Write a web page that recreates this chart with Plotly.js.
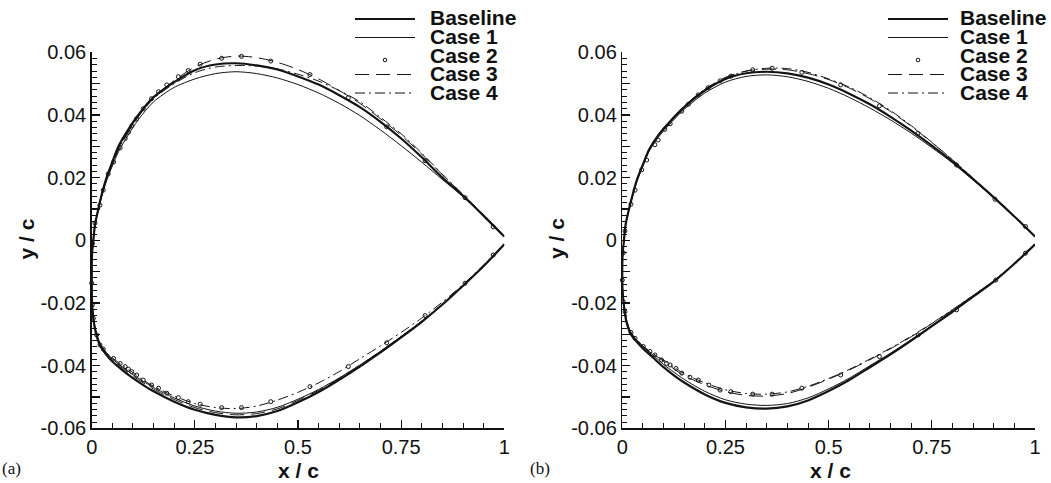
<!DOCTYPE html>
<html>
<head>
<meta charset="utf-8">
<script src="https://cdn.plot.ly/plotly-3.0.1.min.js"></script>
<style>
  html, body { margin: 0; padding: 0; background: #fff; }
  #fig { width: 1051px; height: 483px; }
</style>
</head>
<body>
<div id="fig"></div>
<script>
// Chordwise stations (x/c) for the upper and lower surfaces
const UX = [0, 0.001, 0.004, 0.008, 0.016, 0.025, 0.036, 0.05, 0.065, 0.087, 0.113, 0.15, 0.2, 0.25, 0.3, 0.35, 0.4, 0.45, 0.5, 0.55, 0.6, 0.65, 0.7, 0.75, 0.8, 0.85, 0.9, 0.95, 1.0];
const LX = [0, 0.001, 0.004, 0.01, 0.02, 0.035, 0.05, 0.075, 0.1, 0.125, 0.15, 0.2, 0.25, 0.3, 0.35, 0.4, 0.45, 0.5, 0.55, 0.6, 0.65, 0.7, 0.75, 0.8, 0.85, 0.9, 0.95, 1.0];

// ---- Panel (a): y/c on upper (U) and lower (L) surfaces ----
const A_BASE_U = [-0.0137, -0.004, 0.0, 0.005, 0.010, 0.015, 0.020, 0.025, 0.030, 0.035, 0.040, 0.0457, 0.0505, 0.0543, 0.0561, 0.0565, 0.0558, 0.0545, 0.0523, 0.0497, 0.0463, 0.0425, 0.0378, 0.0325, 0.0265, 0.0200, 0.0142, 0.0078, 0.0012];
const A_BASE_L = [-0.0137, -0.020, -0.025, -0.0295, -0.0335, -0.0365, -0.0387, -0.0415, -0.0440, -0.0462, -0.0482, -0.0515, -0.0541, -0.0557, -0.0565, -0.0561, -0.0545, -0.0517, -0.0484, -0.0445, -0.0403, -0.0358, -0.0310, -0.0260, -0.0205, -0.0145, -0.0082, -0.0013];
const A_C1_U = [-0.0137, -0.004, 0.0, 0.0048, 0.0095, 0.0143, 0.0190, 0.0237, 0.0283, 0.0333, 0.0385, 0.0442, 0.0488, 0.0515, 0.0532, 0.0538, 0.0532, 0.0518, 0.0497, 0.0470, 0.0437, 0.0398, 0.0352, 0.0302, 0.0249, 0.0194, 0.0139, 0.0077, 0.0012];
const A_C1_L = [-0.0137, -0.0198, -0.0247, -0.0290, -0.0328, -0.0357, -0.0378, -0.0405, -0.0429, -0.0450, -0.0470, -0.0503, -0.0529, -0.0545, -0.0552, -0.0548, -0.0533, -0.0507, -0.0476, -0.0439, -0.0398, -0.0354, -0.0307, -0.0258, -0.0204, -0.0144, -0.0081, -0.0013];
const A_C3_U = [-0.0137, -0.004, 0.0, 0.0049, 0.0098, 0.0147, 0.0196, 0.0244, 0.0291, 0.0342, 0.0395, 0.0455, 0.0510, 0.0553, 0.0578, 0.0588, 0.0583, 0.0568, 0.0545, 0.0515, 0.0478, 0.0437, 0.0388, 0.0335, 0.0275, 0.0209, 0.0145, 0.0079, 0.0012];
const A_C3_L = [-0.0137, -0.0199, -0.0248, -0.0292, -0.0330, -0.0360, -0.0381, -0.0409, -0.0433, -0.0455, -0.0475, -0.0508, -0.0534, -0.0550, -0.0557, -0.0553, -0.0538, -0.0511, -0.0479, -0.0441, -0.0399, -0.0354, -0.0307, -0.0258, -0.0204, -0.0144, -0.0081, -0.0013];
const A_C4_U = [-0.0137, -0.004, 0.0, 0.0049, 0.0098, 0.0147, 0.0196, 0.0244, 0.0291, 0.0342, 0.0395, 0.0452, 0.0500, 0.0535, 0.0553, 0.0558, 0.0556, 0.0547, 0.0530, 0.0508, 0.0478, 0.0442, 0.0392, 0.0340, 0.0278, 0.0211, 0.0146, 0.0080, 0.0012];
const A_C4_L = [-0.0137, -0.0199, -0.0248, -0.0290, -0.0332, -0.0358, -0.0375, -0.0400, -0.0422, -0.0446, -0.0466, -0.0497, -0.0521, -0.0534, -0.0537, -0.0529, -0.0510, -0.0485, -0.0455, -0.0419, -0.0378, -0.0337, -0.0294, -0.0248, -0.0197, -0.0141, -0.0079, -0.0013];
// Case 2 is shown as sampled points only
const A_C2_UX = [0.973, 0.905, 0.808, 0.715, 0.622, 0.529, 0.434, 0.363, 0.315, 0.263, 0.234, 0.21, 0.182, 0.162, 0.145, 0.125, 0.109, 0.097, 0.089, 0.081, 0.069, 0.053, 0.040, 0.028, 0.020, 0.008, 0.002, 0];
const A_C2_UY = [0.0043, 0.0136, 0.0254, 0.0362, 0.0455, 0.0529, 0.0572, 0.0587, 0.0581, 0.0562, 0.0542, 0.0522, 0.0496, 0.0474, 0.0452, 0.0420, 0.0388, 0.0365, 0.0345, 0.0325, 0.0295, 0.0250, 0.0212, 0.0160, 0.0112, 0.0055, -0.0010, -0.0137];
const A_C2_LX = [0.0016, 0.004, 0.012, 0.020, 0.028, 0.053, 0.069, 0.081, 0.089, 0.097, 0.109, 0.125, 0.145, 0.162, 0.182, 0.21, 0.234, 0.263, 0.315, 0.363, 0.434, 0.529, 0.622, 0.715, 0.808, 0.905, 0.973];
const A_C2_LY = [-0.0206, -0.0249, -0.0302, -0.0334, -0.0347, -0.0377, -0.0393, -0.0403, -0.0411, -0.0419, -0.0430, -0.0446, -0.0462, -0.0472, -0.0488, -0.0502, -0.0515, -0.0523, -0.0534, -0.0534, -0.0515, -0.0467, -0.0403, -0.0327, -0.0240, -0.0137, -0.0047];

// ---- Panel (b) ----
const B_BASE_U = [-0.0127, -0.004, 0.0, 0.005, 0.0098, 0.0145, 0.0195, 0.0242, 0.0290, 0.0335, 0.0375, 0.0425, 0.0478, 0.0515, 0.0533, 0.0538, 0.0533, 0.0519, 0.0497, 0.0468, 0.0434, 0.0394, 0.0350, 0.0302, 0.0251, 0.0195, 0.0137, 0.0076, 0.0012];
const B_BASE_L = [-0.0127, -0.0170, -0.0210, -0.0260, -0.0298, -0.0324, -0.0345, -0.0375, -0.0405, -0.0431, -0.0454, -0.0492, -0.0519, -0.0533, -0.0537, -0.0530, -0.0511, -0.0481, -0.0446, -0.0405, -0.0364, -0.0320, -0.0274, -0.0228, -0.0180, -0.0132, -0.0075, -0.0013];
const B_C1_U = [-0.0127, -0.004, 0.0, 0.0049, 0.0096, 0.0142, 0.0191, 0.0237, 0.0284, 0.0328, 0.0368, 0.0418, 0.0470, 0.0505, 0.0523, 0.0528, 0.0522, 0.0507, 0.0485, 0.0456, 0.0422, 0.0384, 0.0342, 0.0296, 0.0247, 0.0193, 0.0136, 0.0076, 0.0012];
const B_C1_L = [-0.0127, -0.0169, -0.0208, -0.0256, -0.0293, -0.0318, -0.0338, -0.0367, -0.0396, -0.0421, -0.0444, -0.0482, -0.0509, -0.0523, -0.0527, -0.0521, -0.0503, -0.0474, -0.0440, -0.0400, -0.0360, -0.0317, -0.0272, -0.0226, -0.0179, -0.0131, -0.0074, -0.0013];
const B_C3_U = [-0.0127, -0.004, 0.0, 0.0049, 0.0097, 0.0144, 0.0194, 0.0241, 0.0289, 0.0335, 0.0377, 0.0428, 0.0482, 0.0520, 0.0540, 0.0546, 0.0544, 0.0532, 0.0513, 0.0486, 0.0452, 0.0411, 0.0364, 0.0312, 0.0257, 0.0198, 0.0138, 0.0076, 0.0012];
const B_C3_L = [-0.0127, -0.0168, -0.0205, -0.0250, -0.0291, -0.0316, -0.0337, -0.0362, -0.0386, -0.0410, -0.0432, -0.0461, -0.0483, -0.0495, -0.0497, -0.0489, -0.0469, -0.0443, -0.0414, -0.0381, -0.0346, -0.0308, -0.0266, -0.0222, -0.0176, -0.0129, -0.0073, -0.0013];
const B_C4_U = [-0.0127, -0.004, 0.0, 0.0049, 0.0097, 0.0144, 0.0194, 0.0241, 0.0289, 0.0335, 0.0377, 0.0428, 0.0482, 0.0518, 0.0540, 0.0549, 0.0548, 0.0536, 0.0515, 0.0489, 0.0455, 0.0414, 0.0366, 0.0313, 0.0257, 0.0198, 0.0138, 0.0076, 0.0012];
const B_C4_L = [-0.0127, -0.0168, -0.0205, -0.0252, -0.0294, -0.0320, -0.0340, -0.0364, -0.0382, -0.0405, -0.0426, -0.0455, -0.0477, -0.0489, -0.0491, -0.0484, -0.0466, -0.0441, -0.0412, -0.0379, -0.0344, -0.0306, -0.0265, -0.0221, -0.0176, -0.0129, -0.0073, -0.0013];
const B_C2_UX = [0.977, 0.903, 0.81, 0.716, 0.623, 0.529, 0.435, 0.363, 0.316, 0.263, 0.237, 0.208, 0.184, 0.16, 0.144, 0.116, 0.103, 0.087, 0.079, 0.059, 0.047, 0.031, 0.021, 0.0065, 0.0024, 0];
const B_C2_UY = [0.0044, 0.0131, 0.0240, 0.0341, 0.0429, 0.0496, 0.0536, 0.0549, 0.0544, 0.0524, 0.0509, 0.0487, 0.0464, 0.0434, 0.0412, 0.0372, 0.0354, 0.0320, 0.0305, 0.0256, 0.0225, 0.0160, 0.0115, 0.0030, -0.0040, -0.0127];
const B_C2_LX = [0.0024, 0.0065, 0.021, 0.031, 0.051, 0.067, 0.079, 0.095, 0.107, 0.116, 0.13, 0.144, 0.164, 0.184, 0.21, 0.237, 0.263, 0.316, 0.363, 0.435, 0.529, 0.623, 0.717, 0.81, 0.905, 0.977];
const B_C2_LY = [-0.0196, -0.0228, -0.0294, -0.0313, -0.0339, -0.0355, -0.0366, -0.0382, -0.0393, -0.0398, -0.0409, -0.0424, -0.0437, -0.0446, -0.0462, -0.0478, -0.0483, -0.0491, -0.0491, -0.0472, -0.0430, -0.0371, -0.0302, -0.0222, -0.0127, -0.0041];

// Tick labels
const X_TICKS = [0, 0.25, 0.5, 0.75, 1];
const X_LABELS = ['0', '0.25', '0.5', '0.75', '1'];
const Y_TICKS = [-0.06, -0.05, -0.04, -0.03, -0.02, -0.01, 0, 0.01, 0.02, 0.03, 0.04, 0.05, 0.06];
const Y_LABELS = ['-0.06', '', '-0.04', '', '-0.02', '', '0', '', '0.02', '', '0.04', '', '0.06'];

const SERIES = ['Baseline', 'Case 1', 'Case 2', 'Case 3', 'Case 4'];

// Closed contour: upper surface from trailing edge to nose, then lower surface back
function contour(yu, yl) {
  const x = UX.slice().reverse().concat(LX.slice(1));
  const y = yu.slice().reverse().concat(yl.slice(1));
  return { x, y };
}

const INK = '#141414';
function lineTrace(yu, yl, xa, ya, width, dash) {
  const c = contour(yu, yl);
  return {
    type: 'scatter', mode: 'lines', x: c.x, y: c.y, xaxis: xa, yaxis: ya,
    line: { color: INK, width: width, dash: dash, shape: 'spline', smoothing: 0.8 },
    showlegend: false, hoverinfo: 'skip'
  };
}
function pointTrace(ux, uy, lx, ly, xa, ya) {
  return {
    type: 'scatter', mode: 'markers', x: ux.concat(lx), y: uy.concat(ly), xaxis: xa, yaxis: ya,
    marker: { symbol: 'circle-open', size: 4, color: INK, line: { width: 1, color: INK } },
    cliponaxis: false, showlegend: false, hoverinfo: 'skip'
  };
}

const DASH3 = '14px,7px';
const DASH4 = '10px,4px,2px,4px';

const data = [
  lineTrace(A_BASE_U, A_BASE_L, 'x', 'y', 2.2, 'solid'),
  lineTrace(A_C1_U, A_C1_L, 'x', 'y', 1.0, 'solid'),
  lineTrace(A_C3_U, A_C3_L, 'x', 'y', 1.0, DASH3),
  lineTrace(A_C4_U, A_C4_L, 'x', 'y', 1.0, DASH4),
  pointTrace(A_C2_UX, A_C2_UY, A_C2_LX, A_C2_LY, 'x', 'y'),
  lineTrace(B_BASE_U, B_BASE_L, 'x2', 'y2', 2.2, 'solid'),
  lineTrace(B_C1_U, B_C1_L, 'x2', 'y2', 1.0, 'solid'),
  lineTrace(B_C3_U, B_C3_L, 'x2', 'y2', 1.0, DASH3),
  lineTrace(B_C4_U, B_C4_L, 'x2', 'y2', 1.0, DASH4),
  pointTrace(B_C2_UX, B_C2_UY, B_C2_LX, B_C2_LY, 'x2', 'y2')
];

const W = 1051, H = 483;
const px = v => v / W;          // pixel -> paper x
const py = v => 1 - v / H;      // pixel -> paper y

const tickFont = { family: 'Liberation Sans, Arial, sans-serif', size: 20, color: '#111' };
function xAxis(domain, anchor) {
  return {
    domain: domain, anchor: anchor, range: [0, 1],
    tickmode: 'array', tickvals: X_TICKS, ticktext: X_LABELS,
    ticks: 'inside', ticklen: 8, tickwidth: 1.2, tickcolor: '#111',
    minor: { tickmode: 'linear', tick0: 0, dtick: 0.05, ticks: 'inside', ticklen: 5, tickwidth: 1, tickcolor: '#111' },
    showline: true, linecolor: '#111', linewidth: 1.5, mirror: false,
    showgrid: false, zeroline: false, tickfont: tickFont, fixedrange: true
  };
}
function yAxis(anchor) {
  return {
    domain: [py(428.3), py(52.3)], anchor: anchor, range: [-0.06, 0.06],
    tickmode: 'array', tickvals: Y_TICKS, ticktext: Y_LABELS,
    ticks: 'inside', ticklen: 8, tickwidth: 1.2, tickcolor: '#111',
    minor: { tickmode: 'linear', tick0: 0, dtick: 0.002, ticks: 'inside', ticklen: 5, tickwidth: 1, tickcolor: '#111' },
    showline: true, linecolor: '#111', linewidth: 1.5, mirror: false,
    showgrid: false, zeroline: false, tickfont: tickFont, fixedrange: true
  };
}

// Legend drawn as paper-space samples with bold labels
const legendRows = [18, 36.5, 55, 73.5, 92];
const sampleStyle = [
  { width: 2.2, dash: 'solid' }, { width: 1, dash: 'solid' }, null,
  { width: 1, dash: DASH3 }, { width: 1, dash: DASH4 }
];
const shapes = [];
const annotations = [];
function addLegend(x0, x1, xt) {
  SERIES.forEach((name, i) => {
    const yy = legendRows[i] + 1;
    if (sampleStyle[i]) {
      shapes.push({ type: 'line', xref: 'paper', yref: 'paper', x0: px(x0), x1: px(x1), y0: py(yy), y1: py(yy),
        line: { color: INK, width: sampleStyle[i].width, dash: sampleStyle[i].dash } });
    } else {
      const cx = (x0 + x1) / 2, cy = yy + 4;
      shapes.push({ type: 'circle', xref: 'paper', yref: 'paper', x0: px(cx - 1.8), x1: px(cx + 1.8), y0: py(cy + 1.8), y1: py(cy - 1.8),
        line: { color: INK, width: 1 } });
    }
    annotations.push({ xref: 'paper', yref: 'paper', x: px(xt), y: py(legendRows[i]), xanchor: 'left', yanchor: 'middle',
      text: '<b>' + name + '</b>', showarrow: false,
      font: { family: 'Liberation Sans, Arial, sans-serif', size: 21, color: '#111' } });
  });
}
addLegend(355, 415, 428);
addLegend(888, 948, 958);

const titleFont = { family: 'Liberation Sans, Arial, sans-serif', size: 21, color: '#111' };
[298, 830].forEach(cx => {
  annotations.push({ xref: 'paper', yref: 'paper', x: px(cx), y: py(470), xanchor: 'center', yanchor: 'middle',
    text: '<b>x / c</b>', showarrow: false, font: titleFont });
});
[25.5, 556].forEach(cx => {
  annotations.push({ xref: 'paper', yref: 'paper', x: px(cx), y: py(239), xanchor: 'center', yanchor: 'middle',
    text: '<b>y / c</b>', textangle: -90, showarrow: false, font: titleFont });
});
[['(a)', 0], ['(b)', 528]].forEach(([t, x]) => {
  annotations.push({ xref: 'paper', yref: 'paper', x: px(x), y: py(468), xanchor: 'left', yanchor: 'middle',
    text: t, showarrow: false, font: { family: 'Liberation Serif, Times New Roman, serif', size: 17, color: '#111' } });
});

const layout = {
  width: W, height: H,
  margin: { l: 0, r: 0, t: 0, b: 0, pad: 0 },
  paper_bgcolor: '#fff', plot_bgcolor: '#fff',
  showlegend: false,
  xaxis: xAxis([px(91.7), px(504.3)], 'y'),
  yaxis: yAxis('x'),
  xaxis2: xAxis([px(622.3), px(1035)], 'y2'),
  yaxis2: yAxis('x2'),
  shapes: shapes,
  annotations: annotations
};

Plotly.newPlot('fig', data, layout, { staticPlot: true, displayModeBar: false });
</script>
</body>
</html>
